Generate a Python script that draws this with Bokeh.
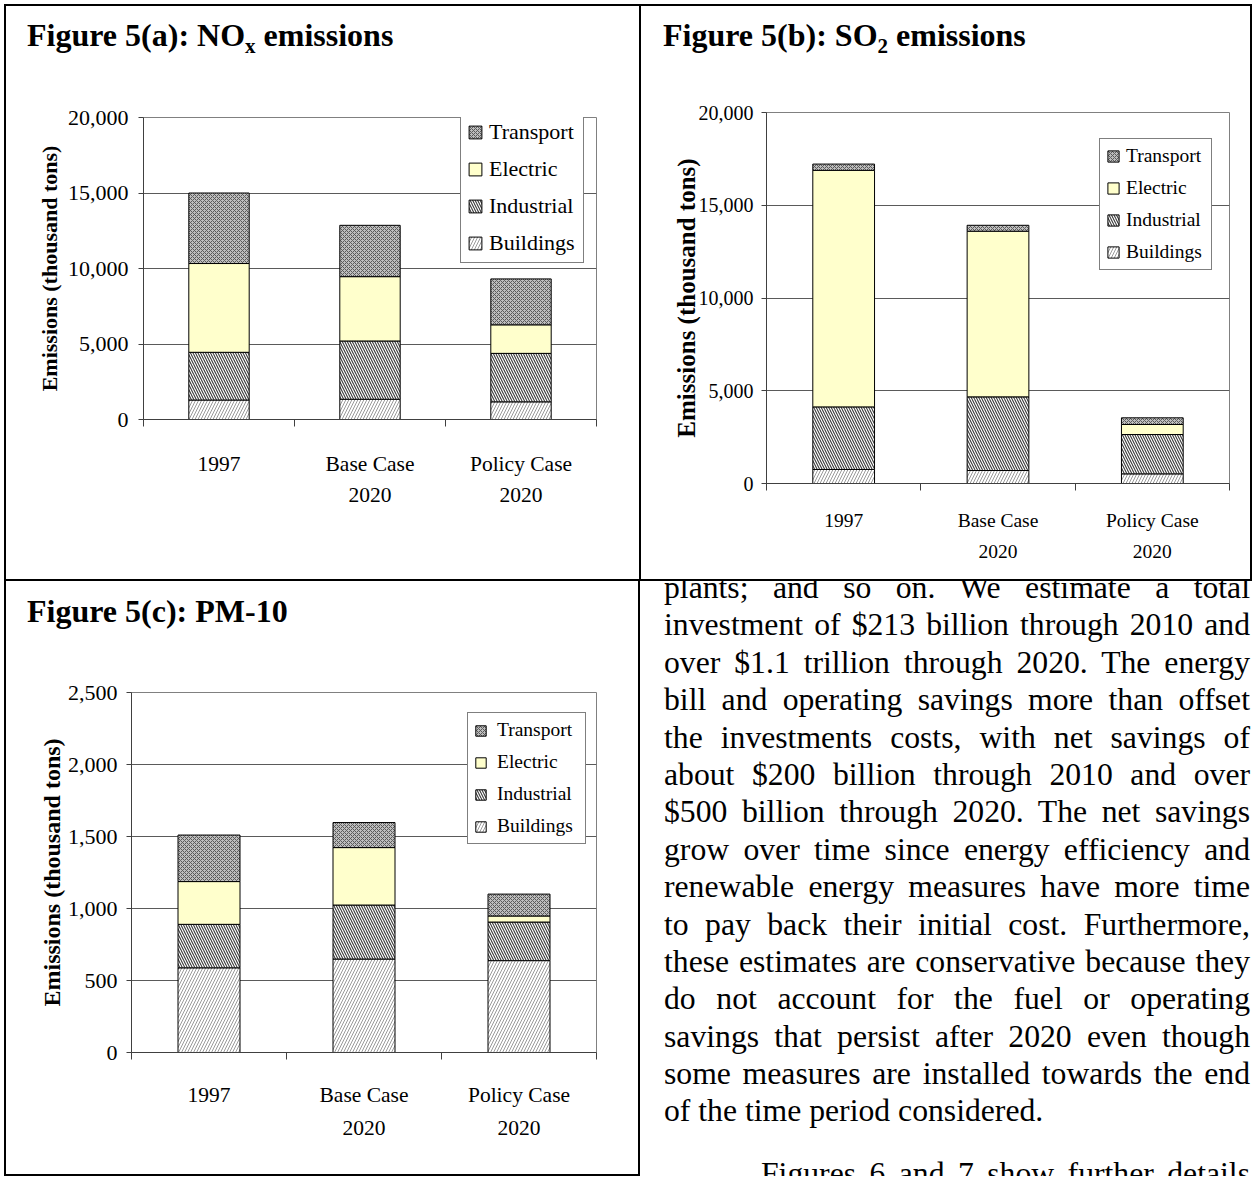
from bokeh.plotting import figure
from bokeh.models import (ColumnDataSource, Range1d, FixedTicker, LinearAxis,
                          NumeralTickFormatter, Legend, LegendItem, Div, Spacer)
from bokeh.layouts import row, column
from bokeh.embed import file_html
from bokeh.resources import INLINE

# ---------------- data ----------------
cat_line1 = ["1997", "Base Case", "Policy Case"]
cat_line2 = ["", "2020", "2020"]
sectors = ["Buildings", "Industrial", "Electric", "Transport"]

nox_buildings = [1290, 1340, 1170]
nox_industrial = [3160, 3860, 3210]
nox_electric = [5880, 4260, 1890]
nox_transport = [4670, 3400, 3040]
nox_ticks = [0, 5000, 10000, 15000, 20000]

so2_buildings = [755, 700, 520]
so2_industrial = [3375, 3970, 2120]
so2_electric = [12750, 8930, 540]
so2_transport = [340, 320, 360]
so2_ticks = [0, 5000, 10000, 15000, 20000]

pm_buildings = [588, 649, 638]
pm_industrial = [302, 375, 268]
pm_electric = [297, 399, 42]
pm_transport = [323, 174, 152]
pm_ticks = [0, 500, 1000, 1500, 2000, 2500]

y_title = "Emissions (thousand tons)"
title_a = ("Figure 5(a): NO", "x", " emissions")
title_b = ("Figure 5(b): SO", "2", " emissions")
title_c = ("Figure 5(c): PM-10", "", "")

para_lines = [
    "plants; and so on. We estimate a total",
    "investment of $213 billion through 2010 and",
    "over $1.1 trillion through 2020. The energy",
    "bill and operating savings more than offset",
    "the investments costs, with net savings of",
    "about $200 billion through 2010 and over",
    "$500 billion through 2020. The net savings",
    "grow over time since energy efficiency and",
    "renewable energy measures have more time",
    "to pay back their initial cost. Furthermore,",
    "these estimates are conservative because they",
    "do not account for the fuel or operating",
    "savings that persist after 2020 even though",
    "some measures are installed towards the end",
    "of the time period considered.",
]
next_line = "Figures 6 and 7 show further details"

# ---------------- styles ----------------
FONT = "Liberation Serif"
fills = ["#ffffff", "#ffffff", "#ffffcc", "#bdbdbd"]
hatches = ["right_diagonal_line", "left_diagonal_line", None, "diagonal_cross"]
hatch_colors = ["#9a9a9a", "#3a3a3a", "#000000", "#5a5a5a"]
hatch_scales = [6, 5, 12, 4]
hatch_weights = [1, 1.1, 1, 1]
AX = "#404040"


def shadow(l, t, r, b):
    parts = []
    if l: parts.append(f"inset {l}px 0 0 0 #000")
    if t: parts.append(f"inset 0 {t}px 0 0 #000")
    if r: parts.append(f"inset -{r}px 0 0 0 #000")
    if b: parts.append(f"inset 0 -{b}px 0 0 #000")
    return ", ".join(parts)


def title_div(width, parts):
    main, sub, rest = parts
    sub_html = (f'<span style="font-size:21px;position:relative;top:7px;">{sub}</span>' if sub else "")
    html = (f'<div style="position:relative;width:{width}px;height:60px;">'
            f'<div style="position:absolute;left:23px;top:15px;white-space:pre;'
            f'font-family:\'Liberation Serif\';font-weight:bold;font-size:32px;'
            f'line-height:32px;color:#000;">{main}{sub_html}{rest}</div></div>')
    return Div(text=html, width=width, height=60, margin=0, disable_math=True)


def build_fig(cfg, buildings, industrial, electric, transport, yticks):
    p = figure(width=cfg["w"], height=cfg["h"],
               x_range=Range1d(0, len(cat_line1)), y_range=Range1d(yticks[0], yticks[-1]),
               output_backend="svg", toolbar_location=None,
               min_border_left=cfg["ml"], min_border_right=cfg["mr"],
               min_border_top=cfg["mt"], min_border_bottom=cfg["mb"])
    p.border_fill_alpha = 0
    p.background_fill_color = "white"
    p.outline_line_color = "#808080"

    xs = [i + 0.5 for i in range(len(cat_line1))]
    bounds = list(range(len(cat_line1) + 1))
    src = ColumnDataSource(dict(x=xs, Buildings=buildings, Industrial=industrial,
                                Electric=electric, Transport=transport))
    rends = p.vbar_stack(sectors, x="x", width=0.4, source=src,
                         fill_color=fills, line_color="black", line_width=1,
                         hatch_pattern=hatches, hatch_color=hatch_colors,
                         hatch_scale=hatch_scales, hatch_weight=hatch_weights)

    p.xgrid.visible = False
    p.ygrid.ticker = FixedTicker(ticks=yticks)
    p.ygrid.grid_line_color = "#5a5a5a"

    ya = p.yaxis[0]
    ya.ticker = FixedTicker(ticks=yticks)
    ya.formatter = NumeralTickFormatter(format="0,0")
    ya.major_tick_out = 5
    ya.major_tick_in = 0
    ya.minor_tick_line_color = None
    ya.axis_line_color = AX
    ya.major_tick_line_color = AX
    ya.major_label_standoff = cfg["ystand"]
    ya.major_label_text_font = FONT
    ya.major_label_text_font_size = cfg["ytick_fs"]
    ya.major_label_text_color = "black"
    ya.axis_label = y_title
    ya.axis_label_text_font = FONT
    ya.axis_label_text_font_style = "bold"
    ya.axis_label_text_font_size = cfg["ytitle_fs"]
    ya.axis_label_text_color = "black"
    ya.axis_label_standoff = cfg["ytitle_stand"]

    xa = p.xaxis[0]
    xa.ticker = FixedTicker(ticks=xs, minor_ticks=bounds)
    xa.major_label_overrides = {x: l for x, l in zip(xs, cat_line1)}
    xa.major_tick_line_color = None
    xa.major_tick_out = 0
    xa.major_tick_in = 0
    xa.minor_tick_out = 7
    xa.minor_tick_in = 0
    xa.minor_tick_line_color = AX
    xa.axis_line_color = AX
    xa.major_label_standoff = cfg["x1stand"]
    xa.major_label_text_font = FONT
    xa.major_label_text_font_size = cfg["x_fs"]
    xa.major_label_text_color = "black"

    xa2 = LinearAxis(ticker=FixedTicker(ticks=xs),
                     major_label_overrides={x: l for x, l in zip(xs, cat_line2)},
                     axis_line_color=None, major_tick_line_color=None,
                     minor_tick_line_color=None, major_tick_out=0, major_tick_in=0,
                     major_label_standoff=cfg["x2stand"],
                     major_label_text_font=FONT, major_label_text_font_size=cfg["x_fs"],
                     major_label_text_color="black")
    p.add_layout(xa2, "below")

    items = [LegendItem(label=sectors[i], renderers=[rends[i]]) for i in reversed(range(len(sectors)))]
    lg = Legend(items=items, location=cfg["leg_loc"], margin=0,
                padding=6, spacing=cfg["leg_sp"],
                glyph_width=cfg["leg_g"], glyph_height=cfg["leg_g"],
                label_height=cfg["leg_lh"], label_width=cfg["leg_lw"],
                label_standoff=cfg["leg_so"],
                label_text_font=FONT, label_text_font_size=cfg["leg_fs"],
                label_text_color="black",
                border_line_color="black", border_line_width=1,
                background_fill_color="white", background_fill_alpha=1)
    p.add_layout(lg)
    return p


cfg_a = dict(w=636, h=516, ml=139, mr=44, mt=53, mb=161,
             ystand=10, ytick_fs="22px", ytitle_fs="22px", ytitle_stand=3,
             x1stand=25, x2stand=9, x_fs="21.5px",
             leg_loc=(317, 156), leg_sp=11, leg_g=16, leg_lh=24, leg_lw=88, leg_so=6,
             leg_fs="22px")
cfg_b = dict(w=612, h=516, ml=126, mr=23, mt=48, mb=97,
             ystand=8, ytick_fs="20px", ytitle_fs="25px", ytitle_stand=-4,
             x1stand=19, x2stand=11, x_fs="19.5px",
             leg_loc=(333, 213), leg_sp=10, leg_g=14, leg_lh=22, leg_lw=79, leg_so=6,
             leg_fs="19.5px")
cfg_c = dict(w=636, h=536, ml=127, mr=44, mt=52, mb=124,
             ystand=9, ytick_fs="22px", ytitle_fs="24px", ytitle_stand=0,
             x1stand=23, x2stand=11, x_fs="21.5px",
             leg_loc=(336, 208), leg_sp=10, leg_g=13, leg_lh=22, leg_lw=82, leg_so=10,
             leg_fs="19.5px")

fa = build_fig(cfg_a, nox_buildings, nox_industrial, nox_electric, nox_transport, nox_ticks)
fb = build_fig(cfg_b, so2_buildings, so2_industrial, so2_electric, so2_transport, so2_ticks)
fc = build_fig(cfg_c, pm_buildings, pm_industrial, pm_electric, pm_transport, pm_ticks)

panel_a = column(title_div(636, title_a), fa, styles={"box-shadow": shadow(2, 2, 1, 1)})
panel_b = column(title_div(612, title_b), fb, styles={"box-shadow": shadow(1, 2, 2, 1)})
panel_c = column(title_div(636, title_c), fc, styles={"box-shadow": shadow(2, 1, 2, 2)})

# ---------------- body text ----------------
LH = 37.4
rows = []
for i, ln in enumerate(para_lines):
    align = "left" if i == len(para_lines) - 1 else "justify"
    rows.append(f'<div style="height:{LH}px;text-align:{align};text-align-last:{align};">{ln}</div>')
rows.append(f'<div style="margin-top:25px;height:{LH}px;text-indent:97px;text-align:justify;'
            f'text-align-last:justify;">{next_line}</div>')
html = ('<div style="position:relative;width:612px;height:596px;overflow:hidden;">'
        '<div style="position:absolute;left:24px;top:-11px;width:586px;'
        f'font-family:\'Liberation Serif\';font-size:31.7px;line-height:{LH}px;color:#000;">'
        + "".join(rows) + '</div></div>')
text_div = Div(text=html, width=612, height=596, margin=0, disable_math=True,
               styles={"box-shadow": shadow(0, 1, 0, 0)})

layout = column(Spacer(width=1252, height=4),
                row(Spacer(width=4, height=1172), column(panel_a, panel_c), column(panel_b, text_div)))
open("out.html", "w").write(file_html(layout, INLINE))
